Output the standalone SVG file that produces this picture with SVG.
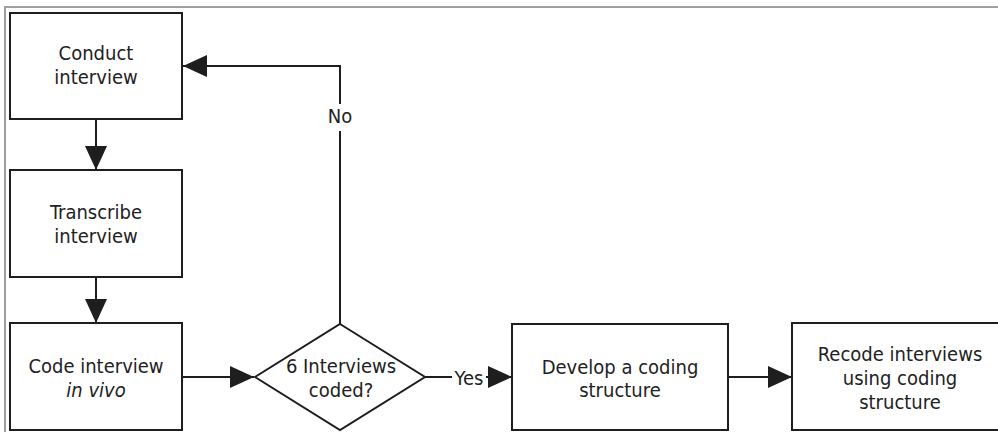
<svg xmlns="http://www.w3.org/2000/svg" width="998" height="432" viewBox="0 0 998 432">
  <style>
    .box { fill: #ffffff; stroke: #1e1e1e; stroke-width: 2; }
    .edge { fill: none; stroke: #1e1e1e; stroke-width: 2; }
    .label { font-family: "DejaVu Sans Condensed", "DejaVu Sans", Verdana, sans-serif; font-stretch: condensed; font-size: 20px; fill: #222222; text-anchor: middle; }
    .frame { fill: none; stroke: #a0a0a0; stroke-width: 2; }
  </style>
  <defs>
    <marker id="arrow" viewBox="0 0 24 22" refX="24" refY="11" markerWidth="24" markerHeight="22" markerUnits="userSpaceOnUse" orient="auto">
      <path d="M0,0 L24,11 L0,22 z" fill="#1e1e1e"/>
    </marker>
  </defs>

  <rect width="998" height="432" fill="#ffffff"/>
  <!-- outer border (top and left edges) -->
  <path class="frame" d="M5,432 V7 H998"/>

  <g id="connectors">
    <path class="edge" d="M96,119 V170" marker-end="url(#arrow)"/>
    <path class="edge" d="M96,277 V323" marker-end="url(#arrow)"/>
    <path class="edge" d="M182,377 H254" marker-end="url(#arrow)"/>
    <path class="edge" d="M340,324 V66 H183" marker-end="url(#arrow)"/>
    <path class="edge" d="M425,377 H512" marker-end="url(#arrow)"/>
    <path class="edge" d="M728,377 H792" marker-end="url(#arrow)"/>
    <rect x="327" y="104" width="26" height="27" fill="#ffffff"/>
    <text class="label" x="340" y="123">No</text>
    <rect x="452" y="366" width="34" height="22" fill="#ffffff"/>
    <text class="label" x="469" y="385">Yes</text>
  </g>

  <g id="conduct">
    <rect class="box" x="10" y="13" width="172" height="106"/>
    <text class="label" x="96" y="60">Conduct</text>
    <text class="label" x="96" y="84">interview</text>
  </g>

  <g id="transcribe">
    <rect class="box" x="10" y="170" width="172" height="107"/>
    <text class="label" x="96" y="219">Transcribe</text>
    <text class="label" x="96" y="243">interview</text>
  </g>

  <g id="code">
    <rect class="box" x="10" y="323" width="172" height="107"/>
    <text class="label" x="96" y="373">Code interview</text>
    <text class="label" x="96" y="397" font-style="italic">in vivo</text>
  </g>

  <g id="decision">
    <path class="box" d="M340,324 L425,377 L340,430 L255,377 z"/>
    <text class="label" x="341" y="373">6 Interviews</text>
    <text class="label" x="341" y="397">coded?</text>
  </g>

  <g id="develop">
    <rect class="box" x="512" y="324" width="216" height="106"/>
    <text class="label" x="620" y="374">Develop a coding</text>
    <text class="label" x="620" y="397">structure</text>
  </g>

  <g id="recode">
    <rect class="box" x="792" y="323" width="216" height="107"/>
    <text class="label" x="900" y="361">Recode interviews</text>
    <text class="label" x="900" y="385">using coding</text>
    <text class="label" x="900" y="409">structure</text>
  </g>
</svg>
